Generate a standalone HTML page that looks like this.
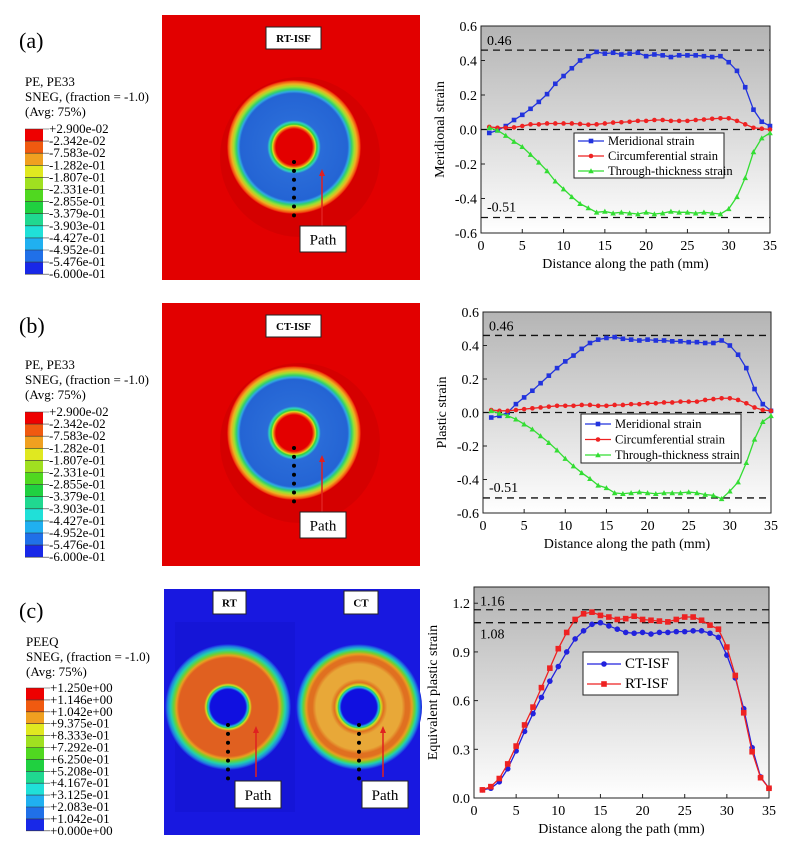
<!DOCTYPE html>
<html><head><meta charset="utf-8"><style>
body{margin:0;background:#fff;width:789px;height:856px;overflow:hidden;font-family:"Liberation Serif",serif}
svg{display:block}
</style></head><body>
<svg id="fig" width="789" height="856" viewBox="0 0 789 856" xmlns="http://www.w3.org/2000/svg">
<defs>
<linearGradient id="bg" x1="0" y1="0" x2="0" y2="1"><stop offset="0" stop-color="#b4b4b4"/><stop offset="1" stop-color="#ffffff"/></linearGradient>
<radialGradient id="ringA" cx="0.5" cy="0.5" r="0.5">
<stop offset="0" stop-color="#e30000"/><stop offset="0.27" stop-color="#e30000"/><stop offset="0.30" stop-color="#f07010"/><stop offset="0.32" stop-color="#d8e020"/><stop offset="0.34" stop-color="#30d040"/><stop offset="0.37" stop-color="#30d0c0"/><stop offset="0.40" stop-color="#2a6cd8"/><stop offset="0.80" stop-color="#2464d4"/><stop offset="0.83" stop-color="#30a8e0"/><stop offset="0.86" stop-color="#30d070"/><stop offset="0.90" stop-color="#a0e030"/><stop offset="0.94" stop-color="#f0b020"/><stop offset="0.98" stop-color="#f05010"/><stop offset="1" stop-color="#e30000"/></radialGradient>
<radialGradient id="ringRT" cx="0.5" cy="0.5" r="0.5">
<stop offset="0" stop-color="#1010e0"/><stop offset="0.28" stop-color="#1010e0"/><stop offset="0.31" stop-color="#20b0e0"/><stop offset="0.33" stop-color="#30d060"/><stop offset="0.35" stop-color="#d0e020"/><stop offset="0.38" stop-color="#e06020"/><stop offset="0.78" stop-color="#e06020"/><stop offset="0.82" stop-color="#e8a020"/><stop offset="0.86" stop-color="#70d030"/><stop offset="0.91" stop-color="#20d0b0"/><stop offset="0.96" stop-color="#2080e0"/><stop offset="1" stop-color="#1818e0"/></radialGradient>
<radialGradient id="ringCT" cx="0.5" cy="0.5" r="0.5">
<stop offset="0" stop-color="#1010e0"/><stop offset="0.28" stop-color="#1010e0"/><stop offset="0.31" stop-color="#20b0e0"/><stop offset="0.33" stop-color="#30d060"/><stop offset="0.35" stop-color="#d0e020"/><stop offset="0.39" stop-color="#e07020"/><stop offset="0.45" stop-color="#e8a838"/><stop offset="0.68" stop-color="#e8a838"/><stop offset="0.74" stop-color="#e07020"/><stop offset="0.80" stop-color="#e07020"/><stop offset="0.84" stop-color="#e8a020"/><stop offset="0.88" stop-color="#70d030"/><stop offset="0.92" stop-color="#20d0b0"/><stop offset="0.96" stop-color="#2080e0"/><stop offset="1" stop-color="#1818e0"/></radialGradient>
</defs>
</svg>
<script>
const xVals=[1,2,3,4,5,6,7,8,9,10,11,12,13,14,15,16,17,18,19,20,21,22,23,24,25,26,27,28,29,30,31,32,33,34,35];
const merA=[-0.02,-0.005,0.02,0.055,0.085,0.12,0.16,0.205,0.265,0.31,0.355,0.40,0.425,0.45,0.44,0.445,0.435,0.44,0.445,0.425,0.435,0.43,0.42,0.43,0.43,0.43,0.425,0.42,0.425,0.39,0.34,0.245,0.115,0.045,0.02];
const cirA=[0.015,0.01,0.01,0.012,0.02,0.03,0.03,0.035,0.035,0.035,0.035,0.032,0.028,0.03,0.035,0.04,0.042,0.045,0.05,0.05,0.055,0.055,0.05,0.05,0.05,0.055,0.058,0.062,0.065,0.065,0.05,0.03,0.01,0.005,0.0];
const thkA=[0.01,-0.005,-0.035,-0.07,-0.1,-0.145,-0.19,-0.24,-0.3,-0.345,-0.39,-0.43,-0.455,-0.48,-0.475,-0.485,-0.48,-0.485,-0.49,-0.48,-0.49,-0.485,-0.475,-0.48,-0.48,-0.485,-0.48,-0.485,-0.49,-0.46,-0.39,-0.28,-0.13,-0.05,-0.02];
const merB=[-0.03,-0.02,0.0,0.05,0.09,0.13,0.175,0.22,0.265,0.305,0.34,0.38,0.415,0.435,0.445,0.45,0.44,0.435,0.43,0.435,0.43,0.43,0.425,0.425,0.42,0.42,0.415,0.415,0.43,0.4,0.345,0.265,0.14,0.05,0.01];
const cirB=[0.015,0.01,0.01,0.015,0.02,0.025,0.03,0.035,0.04,0.04,0.04,0.045,0.045,0.04,0.04,0.045,0.045,0.05,0.05,0.055,0.055,0.06,0.06,0.065,0.065,0.065,0.075,0.08,0.085,0.085,0.075,0.055,0.03,0.015,0.01];
const thkB=[0.01,-0.005,-0.02,-0.04,-0.07,-0.1,-0.14,-0.18,-0.225,-0.275,-0.32,-0.36,-0.395,-0.435,-0.45,-0.48,-0.485,-0.48,-0.475,-0.48,-0.485,-0.48,-0.48,-0.48,-0.475,-0.48,-0.49,-0.495,-0.515,-0.47,-0.415,-0.3,-0.16,-0.055,-0.02];
const ct=[0.05,0.06,0.10,0.18,0.29,0.41,0.52,0.62,0.72,0.81,0.90,0.98,1.03,1.07,1.08,1.06,1.04,1.02,1.015,1.02,1.01,1.02,1.02,1.025,1.025,1.03,1.03,1.015,0.99,0.88,0.74,0.55,0.31,0.13,0.06];
const rt=[0.05,0.07,0.12,0.21,0.32,0.45,0.56,0.68,0.80,0.92,1.02,1.10,1.135,1.145,1.125,1.115,1.10,1.105,1.12,1.10,1.095,1.09,1.085,1.10,1.115,1.115,1.095,1.065,1.04,0.93,0.755,0.525,0.285,0.125,0.06];
const xTicks=[0,5,10,15,20,25,30,35];
const yTicksAB=[-0.6,-0.4,-0.2,0.0,0.2,0.4,0.6];
const yTicksC=[0.0,0.3,0.6,0.9,1.2];
const legA=['+2.900e-02','-2.342e-02','-7.583e-02','-1.282e-01','-1.807e-01','-2.331e-01','-2.855e-01','-3.379e-01','-3.903e-01','-4.427e-01','-4.952e-01','-5.476e-01','-6.000e-01'];
const legC=['+1.250e+00','+1.146e+00','+1.042e+00','+9.375e-01','+8.333e-01','+7.292e-01','+6.250e-01','+5.208e-01','+4.167e-01','+3.125e-01','+2.083e-01','+1.042e-01','+0.000e+00'];
const binCols=['#ee0000','#f05a10','#f0a020','#e0e820','#a0e020','#50d820','#20d040','#20d890','#20e0d8','#20b0f0','#2070e8','#1828e8'];

const svg=document.getElementById('fig');
const NS='http://www.w3.org/2000/svg';
function mk(tag,attrs,parent,text){const e=document.createElementNS(NS,tag);for(const k in attrs)e.setAttribute(k,attrs[k]);if(text!==undefined)e.textContent=text;(parent||svg).appendChild(e);return e;}
function fmt(v,d){return v.toFixed(d);}

function chart(o){
  const g=mk('g',{});
  
  
  const X=v=>o.x0+(v-0)/35*(o.x1-o.x0);
  const Y=v=>o.y1-(v-o.ymin)/(o.ymax-o.ymin)*(o.y1-o.y0);
  mk('rect',{x:o.x0,y:o.y0,width:o.x1-o.x0,height:o.y1-o.y0,fill:'url(#bg)',stroke:'#222','stroke-width':1},g);
  xTicks.forEach(t=>{mk('line',{x1:X(t),x2:X(t),y1:o.y1,y2:o.y1-4,stroke:'#222'},g);
    const tx=mk('text',{x:X(t),y:o.y1+17,'text-anchor':'middle','font-size':14},g,String(t));
    });
  o.yt.forEach(t=>{mk('line',{x1:o.x0,x2:o.x0+4,y1:Y(t),y2:Y(t),stroke:'#222'},g);
    const ty=mk('text',{x:o.x0-4,y:Y(t)+5,'text-anchor':'end','font-size':14},g,fmt(t,1));
    });
  const xt=mk('text',{x:(o.x0+o.x1)/2,y:o.y1+35,'text-anchor':'middle','font-size':14},g,'Distance along the path (mm)');
  
  const yt=mk('text',{x:0,y:0,'text-anchor':'middle','font-size':14,transform:`translate(${o.x0-37},${(o.y0+o.y1)/2}) rotate(-90)`},g,o.ytitle);
  
  o.refs.forEach(r=>{const l=mk('line',{x1:o.x0,x2:o.x1,y1:Y(r.v),y2:Y(r.v),stroke:'#111','stroke-width':1.3,'stroke-dasharray':'7,5'},g);
    
    const t=mk('text',{x:o.x0+6,y:Y(r.v)+r.dy,'font-size':14},g,r.label);
    });
  o.series.forEach(s=>{
    const sg=mk('g',{},g);
    
    
    mk('polyline',{points:s.data.map((v,i)=>X(xVals[i])+','+Y(v)).join(' '),fill:'none',stroke:s.col,'stroke-width':1.3},sg);
    s.data.forEach((v,i)=>marker(sg,s.mark,X(xVals[i]),Y(v),s.col,o.ms));
  });
  const lg=mk('g',{},g);
  
  
  const L=o.leg;
  mk('rect',{x:L.x,y:L.y,width:L.w,height:L.h,fill:'#fff',stroke:'#222'},lg);
  o.series.forEach((s,i)=>{const yy=L.y+L.pad+i*L.dy;
    const e=mk('g',{},lg);
    
    
    mk('line',{x1:L.x+4,x2:L.x+4+L.lw,y1:yy,y2:yy,stroke:s.col,'stroke-width':1.3},e);
    marker(e,s.mark,L.x+4+L.lw/2,yy,s.col,o.ms);
    mk('text',{x:L.x+8+L.lw,y:yy+4,'font-size':L.fs},e,s.label);});
}
function marker(p,m,x,y,c,s){
  if(m==='sq')mk('rect',{x:x-s,y:y-s,width:2*s,height:2*s,fill:c},p);
  else if(m==='ci')mk('circle',{cx:x,cy:y,r:s,fill:c},p);
  else mk('polygon',{points:`${x},${y-s-0.5} ${x-s-0.5},${y+s} ${x+s+0.5},${y+s}`,fill:c},p);
}

chart({name:'chart-a',x0:481,x1:770,y0:26,y1:233,ymin:-0.6,ymax:0.6,yt:yTicksAB,ytitle:'Meridional strain',ms:2.3,
 refs:[{v:0.46,label:'0.46',dy:-5},{v:-0.51,label:'-0.51',dy:-6},{v:0,label:'',dy:0}],
 series:[{name:'meridional-strain-series',data:merA,col:'#2233dd',mark:'sq',label:'Meridional strain'},
  {name:'circumferential-strain-series',data:cirA,col:'#ee2222',mark:'ci',label:'Circumferential strain'},
  {name:'through-thickness-strain-series',data:thkA,col:'#33dd33',mark:'tr',label:'Through-thickness strain'}],
 leg:{x:574,y:133,w:150,h:45,pad:8,dy:15,lw:26,fs:12.5}});
chart({name:'chart-b',x0:483,x1:771,y0:312,y1:513,ymin:-0.6,ymax:0.6,yt:yTicksAB,ytitle:'Plastic strain',ms:2.3,
 refs:[{v:0.46,label:'0.46',dy:-5},{v:-0.51,label:'-0.51',dy:-6},{v:0,label:'',dy:0}],
 series:[{name:'meridional-strain-series',data:merB,col:'#2233dd',mark:'sq',label:'Meridional strain'},
  {name:'circumferential-strain-series',data:cirB,col:'#ee2222',mark:'ci',label:'Circumferential strain'},
  {name:'through-thickness-strain-series',data:thkB,col:'#33dd33',mark:'tr',label:'Through-thickness strain'}],
 leg:{x:581,y:414,w:160,h:49,pad:10,dy:15.5,lw:26,fs:12.5}});
chart({name:'chart-c',x0:474,x1:769,y0:587,y1:798,ymin:0,ymax:1.3,yt:yTicksC,ytitle:'Equivalent plastic strain',ms:2.8,
 refs:[{v:1.16,label:'1.16',dy:-4},{v:1.08,label:'1.08',dy:16}],
 series:[{name:'ct-isf-series',data:ct,col:'#2222dd',mark:'ci',label:'CT-ISF'},
  {name:'rt-isf-series',data:rt,col:'#ee2222',mark:'sq',label:'RT-ISF'}],
 leg:{x:583,y:652,w:95,h:43,pad:12,dy:20,lw:34,fs:15}});

function cLegend(name,x,y,lines,vals,binTop,binH){
  const g=mk('g',{});
  
  
  lines.forEach((t,i)=>mk('text',{x:x,y:y+i*15,'font-size':13},g,t));
  binCols.forEach((c,i)=>mk('rect',{x:x,y:binTop+i*binH,width:18,height:binH,fill:c},g));
  vals.forEach((v,i)=>{const yy=binTop+i*binH;mk('line',{x1:x,x2:x+24,y1:yy,y2:yy,stroke:'#333','stroke-width':0.6},g);
    mk('text',{x:x+24,y:yy+4,'font-size':13},g,v);});
}
cLegend('contour-legend-a',25,86,['PE, PE33','SNEG, (fraction = -1.0)','(Avg: 75%)'],legA,129,12.1);
cLegend('contour-legend-b',25,369,['PE, PE33','SNEG, (fraction = -1.0)','(Avg: 75%)'],legA,412,12.1);
cLegend('contour-legend-c',26,646,['PEEQ','SNEG, (fraction = -1.0)','(Avg: 75%)'],legC,688,11.9);

[['panel-label-a','(a)',19,48],['panel-label-b','(b)',19,333],['panel-label-c','(c)',19,618]].forEach(p=>{
  const t=mk('text',{x:p[2],y:p[3],'font-size':22},svg,p[1]);
  });

function labelBox(x,y,w,h,txt,fs,bold,name){
  const g=mk('g',{});
  
  
  mk('rect',{x:x,y:y,width:w,height:h,fill:'#fff',stroke:'#222'},g);
  mk('text',{x:x+w/2,y:y+h/2+fs*0.36,'text-anchor':'middle','font-size':fs,'font-weight':bold?'bold':'normal'},g,txt);
}
function dotsArrow(cx,cy0,ax,ay0,ay1){
  for(let i=0;i<7;i++)mk('circle',{cx:cx,cy:cy0+i*8.9,r:2,fill:'#000'});
  mk('line',{x1:ax,x2:ax,y1:ay0,y2:ay1+5,stroke:'#e02020','stroke-width':1.5});
  mk('polygon',{points:`${ax},${ay1} ${ax-3},${ay1+7} ${ax+3},${ay1+7}`,fill:'#e02020'});
}
function simPanel(y,h,cy,label,name){
  const g=mk('g',{});
  
  
  mk('rect',{x:162,y:y,width:258,height:h,fill:'#e20000'},g);
  mk('circle',{cx:300,cy:cy+10,r:80,fill:'#b00000',opacity:0.25},g);
  mk('circle',{cx:294,cy:cy,r:67,fill:'url(#ringA)'},g);
  labelBox(266,y+12,55,22,label,11,true,'sim-title-box');
  dotsArrow(294,cy+15,322,cy+80,cy+22);
  labelBox(300,cy+79,46,26,'Path',15,false,'path-label-box');
}
simPanel(15,265,147,'RT-ISF','simulation-panel-a');
simPanel(303,263,433,'CT-ISF','simulation-panel-b');

const gc=mk('g',{});


mk('rect',{x:164,y:589,width:256,height:246,fill:'#1818e0'},gc);
mk('rect',{x:175,y:622,width:120,height:190,fill:'#1414d0',opacity:0.6},gc);
mk('circle',{cx:228,cy:707,r:63,fill:'url(#ringRT)'},gc);
mk('circle',{cx:359,cy:707,r:63,fill:'url(#ringCT)'},gc);
labelBox(213,591,33,23,'RT',11,true,'rt-title-box');
labelBox(344,591,34,23,'CT',11,true,'ct-title-box');
dotsArrow(228,725,256,777,726);
dotsArrow(359,725,383,777,726);
labelBox(235,781,46,27,'Path',15,false,'path-label-box');
labelBox(362,781,46,27,'Path',15,false,'path-label-box');
</script>
</body></html>
